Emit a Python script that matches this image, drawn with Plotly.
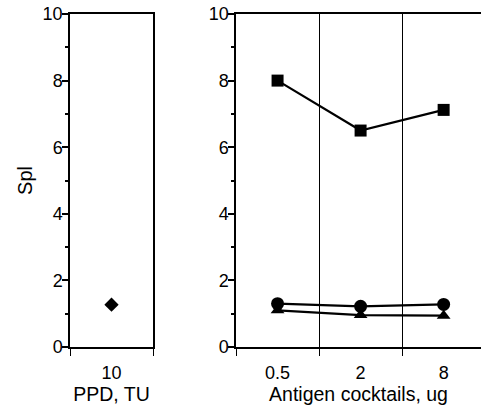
import plotly.graph_objects as go

ppd_labels = ["10"]
ppd_values = [1.27]

cocktail_labels = ["0.5", "2", "8"]
square_values = [8.0, 6.5, 7.12]
circle_values = [1.3, 1.22, 1.28]
triangle_values = [1.1, 0.96, 0.94]

y_ticks = [0, 2, 4, 6, 8, 10]

fig = go.Figure()

fig.add_trace(go.Scatter(
    x=list(range(len(ppd_labels))), y=ppd_values, mode="markers",
    marker=dict(symbol="diamond", size=11, color="black"),
    xaxis="x", yaxis="y", showlegend=False))

xs = list(range(len(cocktail_labels)))
for vals, sym, sz in [(square_values, "square", 12),
                      (circle_values, "circle", 13),
                      (triangle_values, "triangle-up", 12)]:
    fig.add_trace(go.Scatter(
        x=xs, y=vals, mode="lines+markers",
        line=dict(color="black", width=2.2),
        marker=dict(symbol=sym, size=sz, color="black"),
        xaxis="x2", yaxis="y2", showlegend=False))

fam = "Liberation Sans, Arial, sans-serif"
font = dict(family=fam, size=18, color="black")
tfont = dict(family=fam, size=19.5, color="black")

common_y = dict(range=[0, 10], tickvals=y_ticks, ticks="outside", ticklen=6,
                tickwidth=1.5, tickcolor="black",
                showline=True, linecolor="black", linewidth=1.5,
                showgrid=False, zeroline=False, tickfont=font, automargin=False,
                ticklabelstandoff=-4, ticklabeloverflow="allow",
                minor=dict(dtick=1, tick0=0, ticks="outside", ticklen=3,
                           tickcolor="black", showgrid=False))

fig.update_layout(
    width=481, height=406,
    margin=dict(l=70, r=0, t=14, b=59),
    paper_bgcolor="white", plot_bgcolor="white",
    font=font,
    xaxis=dict(domain=[0, 0.202], range=[-0.5, 0.5],
               tickvals=[0], ticktext=ppd_labels, ticks="",
               showline=True, linecolor="black", linewidth=1.5, mirror=True,
               showgrid=False, zeroline=False, tickfont=font, automargin=False,
               ticklabelstandoff=9,
               title=dict(text="PPD, TU", font=tfont, standoff=0),
               minor=dict(tick0=-0.5, dtick=1, ticks="outside", ticklen=7,
                          tickcolor="black", showgrid=False),
               anchor="y"),
    yaxis=dict(domain=[0, 1], anchor="x", mirror=True,
               title=dict(text="Spl", font=dict(family=fam, size=20, color="black"), standoff=5),
               **common_y),
    xaxis2=dict(domain=[0.404, 1], range=[-0.5, 2.45],
                tickvals=xs, ticktext=cocktail_labels, ticks="",
                showline=True, linecolor="black", linewidth=1.5, mirror=True,
                showgrid=False, zeroline=False, tickfont=font, automargin=False,
                ticklabelstandoff=9,
                title=dict(text="Antigen cocktails, ug", font=tfont, standoff=0),
                minor=dict(tick0=-0.5, dtick=1, ticks="outside", ticklen=7,
                           tickcolor="black", showgrid=True,
                           gridcolor="black", gridwidth=1),
                anchor="y2"),
    yaxis2=dict(domain=[0, 1], anchor="x2", **common_y),
)

fig.write_html("out.html", config={"displayModeBar": False},
               post_script="document.body.style.margin='0';")
